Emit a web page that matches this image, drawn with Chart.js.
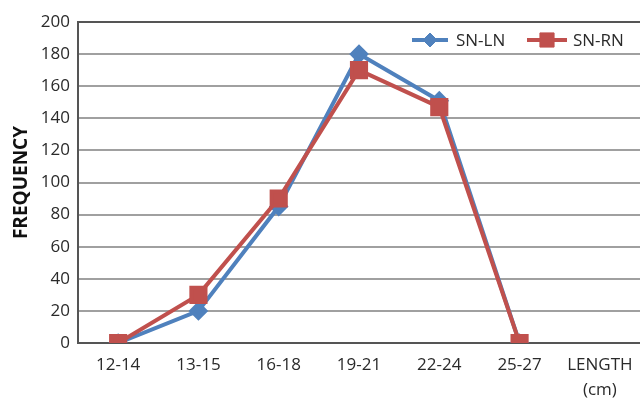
<!DOCTYPE html>
<html>
<head>
<meta charset="utf-8">
<script src="https://cdn.jsdelivr.net/npm/chart.js@4/dist/chart.umd.min.js"></script>
<style>
  html, body { margin: 0; padding: 0; background: #fff; }
  #wrap { width: 640px; height: 398px; position: relative; }
</style>
</head>
<body>
<div id="wrap"><canvas id="c"></canvas></div>
<script>
// Length classes (cm); the last slot carries the axis caption
const categories = ['12-14', '13-15', '16-18', '19-21', '22-24', '25-27', ['LENGTH', '(cm)']];
// Frequencies per length class
const snLN = [0, 20, 85, 180, 151, 0, null];
const snRN = [0, 30, 90, 170, 147, 0, null];
const yTicks = [0, 20, 40, 60, 80, 100, 120, 140, 160, 180, 200];

const BLUE = '#4F81BD';
const RED = '#C0504D';
const FONT = "'Open Sans', 'Liberation Sans', sans-serif";
const TEXT = '#2a2a2a';

// Line-and-marker legend drawn in the upper right of the plot
const lineLegend = {
  id: 'lineLegend',
  afterDraw(chart) {
    const ctx = chart.ctx;
    const y = 40;
    const items = [
      { ds: chart.data.datasets[0], x0: 412, x1: 448, tx: 456 },
      { ds: chart.data.datasets[1], x0: 527, x1: 567, tx: 573 }
    ];
    ctx.save();
    items.forEach(it => {
      ctx.strokeStyle = it.ds.borderColor;
      ctx.lineWidth = 4;
      ctx.beginPath();
      ctx.moveTo(it.x0, y);
      ctx.lineTo(it.x1, y);
      ctx.stroke();
      ctx.fillStyle = it.ds.pointBackgroundColor;
      ctx.strokeStyle = it.ds.pointBorderColor;
      ctx.lineWidth = 1;
      Chart.helpers.drawPoint(ctx, {
        pointStyle: it.ds.pointStyle,
        radius: it.ds.pointRadius,
        borderWidth: 1
      }, (it.x0 + it.x1) / 2, y);
      ctx.font = '17px ' + FONT;
      ctx.fillStyle = TEXT;
      ctx.textBaseline = 'middle';
      ctx.textAlign = 'left';
      ctx.fillText(it.ds.label, it.tx, y + 1);
    });
    ctx.restore();
  }
};

new Chart(document.getElementById('c'), {
  type: 'line',
  data: {
    labels: categories,
    datasets: [
      {
        label: 'SN-LN',
        data: snLN,
        borderColor: BLUE,
        backgroundColor: BLUE,
        pointBackgroundColor: BLUE,
        pointBorderColor: BLUE,
        borderWidth: 4,
        pointStyle: 'rectRot',
        pointRadius: 7,
        order: 2
      },
      {
        label: 'SN-RN',
        data: snRN,
        borderColor: RED,
        backgroundColor: RED,
        pointBackgroundColor: RED,
        pointBorderColor: RED,
        borderWidth: 4,
        pointStyle: 'rect',
        pointRadius: 10,
        order: 1
      }
    ]
  },
  options: {
    responsive: true,
    maintainAspectRatio: false,
    animation: false,
    layout: { autoPadding: false, padding: { top: 22, right: 0, left: 0, bottom: 0 } },
    plugins: {
      legend: { display: false },
      tooltip: { enabled: false }
    },
    scales: {
      x: {
        offset: true,
        grid: { display: false, drawTicks: false, offset: true },
        border: { display: true, color: '#555', width: 2 },
        ticks: {
          color: TEXT,
          font: { family: FONT, size: 17, lineHeight: 1.45 },
          padding: 10,
          maxRotation: 0,
          autoSkip: false
        },
        afterFit(s) { s.height = 55; s.paddingRight = 0; s.paddingLeft = 0; }
      },
      y: {
        min: 0,
        max: 200,
        afterBuildTicks(s) { s.ticks = yTicks.map(v => ({ value: v })); },
        grid: {
          drawTicks: false,
          color: ctx => ctx.tick && ctx.tick.value === 200 ? '#555' : '#a0a0a0',
          lineWidth: 2
        },
        border: { display: true, color: '#555', width: 2 },
        ticks: {
          color: TEXT,
          font: { family: FONT, size: 17 },
          padding: 8
        },
        title: {
          display: true,
          text: 'FREQUENCY',
          color: '#111',
          font: { family: FONT, size: 19, weight: 'bold' },
          padding: { top: 10, bottom: 0 }
        },
        afterFit(s) { s.width = 78; }
      }
    }
  },
  plugins: [lineLegend]
});
</script>
</body>
</html>
